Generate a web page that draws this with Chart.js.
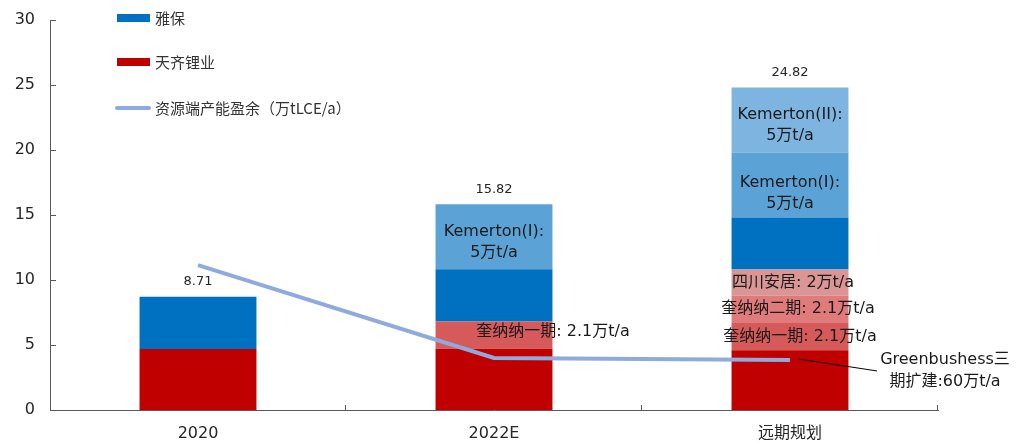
<!DOCTYPE html>
<html>
<head>
<meta charset="utf-8">
<script src="https://cdn.jsdelivr.net/npm/chart.js@4.4.1/dist/chart.umd.min.js"></script>
<style>
  html, body { margin: 0; padding: 0; background: #fff; }
  #wrap { width: 1024px; height: 443px; }
</style>
</head>
<body>
<div id="wrap"><canvas id="chart" width="1024" height="443"></canvas></div>
<script>
// categories and values
const categories = ['2020', '2022E', '远期规划'];
const tianqiBase = [4.7, 4.71, 4.6];
const kwinanaI = [null, 2.1, 2.1];
const kwinanaII = [null, null, 2.1];
const sichuanAnju = [null, null, 2.0];
const albemarleBase = [4.01, 4.01, 4.01];
const kemertonI = [null, 5.0, 5.0];
const kemertonII = [null, null, 5.0];
const surplus = [11.15, 4.0, 3.85];
const totals = ['8.71', '15.82', '24.82'];

// segment texts
const kwinanaIText = [null, ['奎纳纳一期: 2.1万t/a'], ['奎纳纳一期: 2.1万t/a']];
const kwinanaIIText = [null, null, ['奎纳纳二期: 2.1万t/a']];
const sichuanText = [null, null, ['四川安居: 2万t/a']];
const kemertonIText = [null, ['Kemerton(I):', '5万t/a'], ['Kemerton(I):', '5万t/a']];
const kemertonIIText = [null, null, ['Kemerton(II):', '5万t/a']];
const noteText = ['Greenbushess三', '期扩建:60万t/a'];

const latin = '"DejaVu Sans", "Noto Sans CJK SC", sans-serif';
const cjk = '"Noto Sans CJK SC", "DejaVu Sans", sans-serif';

// label offsets (px) per dataset / category
const labelShift = {
  kwinanaI: [null, [59, -3], [10, 0]],
  kwinanaII: [null, null, [8, 0]],
  sichuan: [null, null, [3, 0]],
  kemertonI: [null, [0, 6], [0, 8]],
  kemertonII: [null, null, [0, 5]]
};

const decor = {
  id: 'decor',
  afterDraw(chart) {
    const ctx = chart.ctx;
    const area = chart.chartArea;
    const y = chart.scales.y;
    ctx.save();

    // inward tick marks
    ctx.strokeStyle = '#595959';
    ctx.lineWidth = 1;
    ctx.beginPath();
    y.ticks.forEach(t => {
      const py = Math.round(y.getPixelForValue(t.value)) + 0.5;
      ctx.moveTo(area.left, py);
      ctx.lineTo(area.left + 6, py);
    });
    const step = (area.right - area.left) / categories.length;
    for (let i = 1; i <= categories.length; i++) {
      const px = Math.round(area.left + i * step) - 0.5;
      ctx.moveTo(px, area.bottom);
      ctx.lineTo(px, area.bottom - 5);
    }
    ctx.stroke();

    // segment labels
    ctx.fillStyle = '#1a1a1a';
    ctx.textAlign = 'center';
    ctx.textBaseline = 'middle';
    chart.data.datasets.forEach((ds, di) => {
      if (!ds.segText) return;
      const meta = chart.getDatasetMeta(di);
      ds.segText.forEach((lines, i) => {
        if (!lines) return;
        const bar = meta.data[i];
        const sh = labelShift[ds.key][i];
        const cx = bar.x + sh[0];
        const cy = (bar.y + bar.base) / 2 + sh[1];
        ctx.font = '16px ' + latin;
        const lh = 21;
        lines.forEach((ln, k) => {
          ctx.fillText(ln, cx, cy + (k - (lines.length - 1) / 2) * lh);
        });
      });
    });

    // totals above the bars
    const topMeta = chart.getDatasetMeta(6);
    const midMeta = chart.getDatasetMeta(5);
    const baseMeta = chart.getDatasetMeta(4);
    ctx.font = '13px ' + latin;
    ctx.fillStyle = '#262626';
    totals.forEach((t, i) => {
      let el = topMeta.data[i];
      if (kemertonII[i] == null) el = kemertonI[i] == null ? baseMeta.data[i] : midMeta.data[i];
      ctx.fillText(t, el.x, el.y - 15);
    });

    // note with leader line
    const far = baseMeta.data[2];
    const ay = y.getPixelForValue(surplus[2]);
    ctx.strokeStyle = '#000';
    ctx.lineWidth = 1;
    ctx.beginPath();
    ctx.moveTo(far.x + 8, ay - 1);
    ctx.lineTo(far.x + 87, ay + 11);
    ctx.stroke();
    ctx.font = '16px ' + latin;
    ctx.fillStyle = '#1a1a1a';
    noteText.forEach((ln, k) => ctx.fillText(ln, far.x + 155, ay + k * 22));

    // legend
    const lx = area.left + 67;
    const rows = [area.top - 2, area.top + 42, area.top + 88];
    ctx.fillStyle = '#0070C0';
    ctx.fillRect(lx, rows[0] - 4, 33, 8);
    ctx.fillStyle = '#C00000';
    ctx.fillRect(lx, rows[1] - 4, 33, 8);
    ctx.strokeStyle = '#8FAADC';
    ctx.lineWidth = 4;
    ctx.lineCap = 'round';
    ctx.beginPath();
    ctx.moveTo(lx, rows[2]);
    ctx.lineTo(lx + 32, rows[2]);
    ctx.stroke();
    ctx.fillStyle = '#333';
    ctx.textAlign = 'left';
    ctx.font = '15px ' + cjk;
    ctx.fillText('雅保', lx + 38, rows[0]);
    ctx.fillText('天齐锂业', lx + 38, rows[1]);
    ctx.fillText('资源端产能盈余（万tLCE/a）', lx + 38, rows[2]);
    ctx.restore();
  }
};

const ctx = document.getElementById('chart').getContext('2d');
new Chart(ctx, {
  type: 'bar',
  data: {
    labels: categories,
    datasets: [
      { key: 'base', label: '天齐锂业', data: tianqiBase, backgroundColor: '#C00000', order: 1 },
      { key: 'kwinanaI', label: '奎纳纳一期', data: kwinanaI, segText: kwinanaIText, backgroundColor: '#D65A5A', order: 1 },
      { key: 'kwinanaII', label: '奎纳纳二期', data: kwinanaII, segText: kwinanaIIText, backgroundColor: '#E07B7B', order: 1 },
      { key: 'sichuan', label: '四川安居', data: sichuanAnju, segText: sichuanText, backgroundColor: '#D99694', order: 1 },
      { key: 'base', label: '雅保', data: albemarleBase, backgroundColor: '#0070C0', order: 1 },
      { key: 'kemertonI', label: 'Kemerton(I)', data: kemertonI, segText: kemertonIText, backgroundColor: '#5BA2D6', order: 1 },
      { key: 'kemertonII', label: 'Kemerton(II)', data: kemertonII, segText: kemertonIIText, backgroundColor: '#7EB5E0', order: 1 },
      {
        type: 'line',
        label: '资源端产能盈余（万tLCE/a）',
        data: surplus,
        stack: 'line',
        borderColor: '#8FAADC',
        borderWidth: 4,
        pointRadius: 0,
        fill: false,
        tension: 0,
        order: 0
      }
    ]
  },
  options: {
    responsive: false,
    devicePixelRatio: 1,
    animation: false,
    layout: { padding: { top: 20, right: 86, bottom: 0, left: 0 } },
    datasets: { bar: { barPercentage: 0.395, categoryPercentage: 1 } },
    plugins: {
      legend: { display: false },
      tooltip: { enabled: false }
    },
    scales: {
      x: {
        stacked: true,
        grid: { display: false, drawTicks: false },
        border: { display: true, color: '#595959', width: 1 },
        ticks: { color: '#262626', padding: 14, font: { family: latin, size: 16 } },
        afterFit: s => { s.height = 33; s.paddingLeft = 0; s.paddingRight = 0; }
      },
      y: {
        stacked: true,
        min: 0,
        max: 30,
        grid: { display: false, drawTicks: false },
        border: { display: true, color: '#595959', width: 1 },
        ticks: { stepSize: 5, color: '#262626', padding: 15, font: { family: latin, size: 16 } },
        afterFit: s => { s.width = 50; s.paddingTop = 0; s.paddingBottom = 0; }
      }
    }
  },
  plugins: [decor]
});
</script>
</body>
</html>
